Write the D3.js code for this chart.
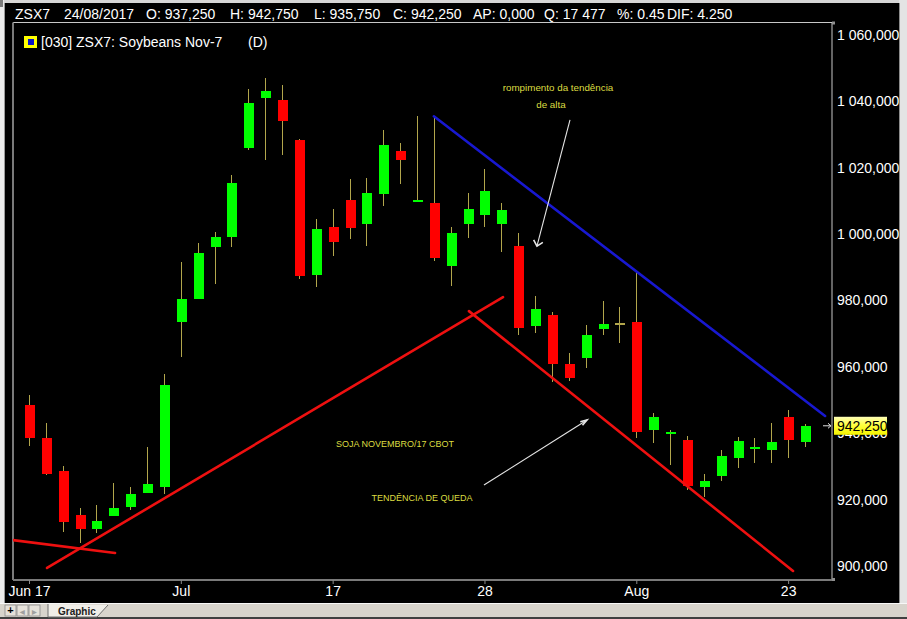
<!DOCTYPE html>
<html>
<head>
<meta charset="utf-8">
<script src="https://cdn.jsdelivr.net/npm/d3@7/dist/d3.min.js"></script>
<style>
  html, body { margin: 0; padding: 0; background: #000; overflow: hidden; }
  svg { display: block; }
  text { font-family: "Liberation Sans", Arial, sans-serif; }
</style>
</head>
<body>
<svg id="chart" width="907" height="619"></svg>
<script>
// ZSX7 (Soybeans Nov-17) daily candles, 20 Jun – 24 Aug 2017
const dates = [
  "2017-06-20","2017-06-21","2017-06-22","2017-06-23","2017-06-26","2017-06-27","2017-06-28","2017-06-29","2017-06-30",
  "2017-07-03","2017-07-05","2017-07-06","2017-07-07","2017-07-10","2017-07-11","2017-07-12","2017-07-13","2017-07-14",
  "2017-07-17","2017-07-18","2017-07-19","2017-07-20","2017-07-21","2017-07-24","2017-07-25","2017-07-26","2017-07-27",
  "2017-07-28","2017-07-31","2017-08-01","2017-08-02","2017-08-03","2017-08-04","2017-08-07","2017-08-08","2017-08-09",
  "2017-08-10","2017-08-11","2017-08-14","2017-08-15","2017-08-16","2017-08-17","2017-08-18","2017-08-21","2017-08-22",
  "2017-08-23","2017-08-24"
];
const open = [
  948.50, 938.50, 928.50, 915.50, 911.25, 915.00, 917.75, 922.00, 923.75,
  973.50, 980.50, 996.00, 999.00, 1026.00, 1041.00, 1040.50, 1028.25, 987.75,
  1002.00, 1010.25, 1003.00, 1012.00, 1025.00, 1009.75, 1009.50, 990.50, 1003.00,
  1005.75, 1003.00, 996.50, 972.25, 975.75, 960.75, 962.75, 971.50, 973.00,
  973.50, 941.00, 940.00, 938.00, 923.75, 927.25, 932.50, 935.25, 935.00,
  945.00, 937.25
];
const high = [
  951.50, 943.00, 930.25, 917.50, 918.50, 925.00, 923.75, 936.00, 958.00,
  991.50, 997.25, 1000.50, 1017.75, 1043.75, 1047.00, 1045.00, 1028.75, 1004.50,
  1007.50, 1016.75, 1017.00, 1031.25, 1027.50, 1035.50, 1035.50, 1002.25, 1012.50,
  1019.75, 1009.50, 1000.25, 981.25, 976.50, 964.25, 972.75, 979.75, 978.00,
  988.50, 946.25, 941.00, 939.25, 927.75, 935.00, 938.75, 938.50, 943.00,
  947.00, 942.75
];
const low = [
  936.25, 927.50, 910.25, 907.00, 910.00, 915.00, 917.00, 922.00, 921.75,
  963.00, 980.50, 985.00, 996.00, 1025.25, 1022.25, 1023.75, 986.50, 984.00,
  993.50, 998.50, 996.50, 1008.50, 1015.25, 1009.75, 992.00, 984.50, 998.75,
  1002.25, 994.50, 969.75, 970.25, 955.50, 955.75, 959.75, 969.50, 967.25,
  938.50, 937.00, 930.50, 923.00, 920.75, 925.75, 929.50, 931.00, 931.00,
  932.50, 935.75
];
const close = [
  938.50, 927.75, 913.25, 911.25, 913.50, 917.50, 921.75, 924.75, 954.50,
  980.50, 994.25, 999.00, 1015.50, 1039.50, 1043.00, 1034.00, 987.50, 1001.50,
  997.50, 1001.75, 1012.25, 1027.00, 1022.25, 1010.00, 992.75, 1000.25, 1007.50,
  1013.00, 1007.25, 971.75, 977.50, 960.75, 956.75, 969.75, 973.00, 973.00,
  940.50, 945.00, 940.25, 924.25, 925.50, 933.00, 937.75, 935.75, 937.50,
  938.00, 942.25
];

// Time axis labels (bar index -> label)
const timeTickIndex = [0, 9, 18, 27, 36, 45];
const timeTickLabels = ["Jun 17", "Jul", "17", "28", "Aug", "23"];
// Price axis
const priceTicks = [900, 920, 940, 960, 980, 1000, 1020, 1040, 1060];
const lastPrice = 942.25;

// Header quote line
const headerParts = ["ZSX7", "24/08/2017", "O: 937,250", "H: 942,750", "L: 935,750", "C: 942,250",
                     "AP: 0,000", "Q: 17 477", "%: 0.45", "DIF: 4.250"];
const legendTitle = "[030] ZSX7: Soybeans Nov-7";
const legendPeriod = "(D)";

// Hand-drawn studies, in (bar index, price) coordinates
const supportShort = [[-0.95, 907.8], [5.10, 903.9]];
const uptrend      = [[1.07, 899.4], [28.10, 981.0]];
const downChannel  = [[26.08, 976.8], [45.29, 898.5]];
const downTrend    = [[24.0, 1035.5], [47.19, 945.2]];
const arrowBreak   = [[32.07, 1034.4], [30.11, 996.4]];
const arrowFall    = [[26.97, 924.4], [33.08, 944.0]];
const notes = [
  { i: 31.36, v: 1044.3, text: "rompimento da tendência", size: 9.8 },
  { i: 30.94, v: 1038.9, text: "de alta", size: 9.8 },
  { i: 21.70, v: 936.8,  text: "SOJA NOVEMBRO/17 CBOT", size: 9 },
  { i: 23.30, v: 920.5,  text: "TENDÊNCIA DE QUEDA", size: 9 }
];

const W = 907, H = 619;
const plot = { left: 13, right: 832, top: 22.5, bottom: 580 };

const svg = d3.select("#chart");

const x = d3.scaleLinear().domain([0, dates.length - 1]).range([29, 805]);
const y = d3.scaleLinear().domain([900, 1060]).range([566, 35]);

const bars = dates.map((d, i) => ({ i, date: d, o: open[i], h: high[i], l: low[i], c: close[i] }));

// background
svg.append("rect").attr("width", W).attr("height", H).attr("fill", "#000");

// clip for plot content
svg.append("defs").append("clipPath").attr("id", "plotClip")
  .append("rect").attr("x", plot.left).attr("y", plot.top)
  .attr("width", plot.right - plot.left).attr("height", plot.bottom - plot.top);

const grad = svg.select("defs").append("linearGradient").attr("id", "lastGrad")
  .attr("x1", 0).attr("y1", 0).attr("x2", 0).attr("y2", 1);
grad.append("stop").attr("offset", "0%").attr("stop-color", "#ffffb8");
grad.append("stop").attr("offset", "45%").attr("stop-color", "#ffff40");
grad.append("stop").attr("offset", "100%").attr("stop-color", "#f4f400");

// header quote line
const headerX = [15, 64, 146, 230, 314, 393, 473, 544, 617, 667];
svg.append("g").selectAll("text").data(headerParts).join("text")
  .attr("x", (d, k) => headerX[k]).attr("y", 19)
  .attr("fill", "#fff").attr("font-size", 14).text(d => d);

// plot frame
const frame = svg.append("g");
frame.append("line").attr("x1", plot.left).attr("x2", plot.right).attr("y1", plot.top).attr("y2", plot.top)
  .attr("stroke", "#c8c8c8").attr("stroke-width", 1);
frame.append("line").attr("x1", plot.right).attr("x2", plot.right).attr("y1", plot.top).attr("y2", plot.bottom)
  .attr("stroke", "#c8c8c8").attr("stroke-width", 1);
frame.append("line").attr("x1", plot.left).attr("x2", plot.left).attr("y1", plot.top).attr("y2", plot.bottom)
  .attr("stroke", "#7a7a7a").attr("stroke-width", 2);
frame.append("line").attr("x1", plot.left).attr("x2", plot.right).attr("y1", plot.bottom).attr("y2", plot.bottom)
  .attr("stroke", "#7a7a7a").attr("stroke-width", 2);
frame.append("rect").attr("x", plot.right).attr("y", plot.top - 1).attr("width", 3).attr("height", 3).attr("fill", "#909090");
frame.append("rect").attr("x", plot.right).attr("y", plot.bottom - 2).attr("width", 3).attr("height", 3).attr("fill", "#909090");

// legend
const lg = svg.append("g");
lg.append("rect").attr("x", 24).attr("y", 36).attr("width", 13).attr("height", 12).attr("fill", "#ffff00");
lg.append("rect").attr("x", 28).attr("y", 39).attr("width", 6).attr("height", 6).attr("fill", "#0a14c8");
lg.append("text").attr("x", 41).attr("y", 47).attr("fill", "#fff").attr("font-size", 14).text(legendTitle);
lg.append("text").attr("x", 248).attr("y", 47).attr("fill", "#fff").attr("font-size", 14).text(legendPeriod);

// price axis (right)
const fmtPrice = v => {
  const s = d3.format(",.3f")(v);
  return s.replace(/,/g, " ").replace(".", ",");
};
const yAxis = svg.append("g").attr("transform", `translate(${plot.right},0)`)
  .call(d3.axisRight(y).tickValues(priceTicks).tickFormat(fmtPrice).tickSize(0).tickPadding(5));
yAxis.select(".domain").remove();
yAxis.selectAll("text").attr("fill", "#fff").attr("font-size", 14)
  .attr("font-family", "'Liberation Sans', Arial, sans-serif");

// time axis (bottom)
const xAxis = svg.append("g").attr("transform", `translate(0,${plot.bottom})`)
  .call(d3.axisBottom(x).tickValues(timeTickIndex)
    .tickFormat((d, k) => timeTickLabels[k]).tickSize(4).tickPadding(2));
xAxis.select(".domain").remove();
xAxis.selectAll("line").attr("stroke", "#8a8a8a");
xAxis.selectAll("text").attr("fill", "#fff").attr("font-size", 14)
  .attr("font-family", "'Liberation Sans', Arial, sans-serif");

// candles
const content = svg.append("g").attr("clip-path", "url(#plotClip)");
const wickColor = "#b2a64c";
const bodyW = 10;
const candles = content.append("g").attr("shape-rendering", "crispEdges")
  .selectAll("g").data(bars).join("g");
candles.append("line")
  .attr("x1", d => Math.round(x(d.i)) + 0.5).attr("x2", d => Math.round(x(d.i)) + 0.5)
  .attr("y1", d => y(d.h)).attr("y2", d => y(d.l))
  .attr("stroke", wickColor).attr("stroke-width", 1);
candles.append("rect")
  .attr("x", d => Math.round(x(d.i)) - bodyW / 2 + 1)
  .attr("width", bodyW)
  .attr("y", d => {
    const top = y(Math.max(d.o, d.c)), bot = y(Math.min(d.o, d.c));
    return bot - top < 2 ? (top + bot) / 2 - 1 : top;
  })
  .attr("height", d => Math.max(2, y(Math.min(d.o, d.c)) - y(Math.max(d.o, d.c))))
  .attr("fill", d => d.c > d.o ? "#00ff00" : d.c < d.o ? "#ff0000" : wickColor);

// trend lines
const lineGen = d3.line().x(p => x(p[0])).y(p => y(p[1]));
const studies = content.append("g").attr("fill", "none").attr("stroke-linecap", "round");
[supportShort, uptrend, downChannel].forEach(seg =>
  studies.append("path").attr("d", lineGen(seg)).attr("stroke", "#ee1010").attr("stroke-width", 2.6));
studies.append("path").attr("d", lineGen(downTrend)).attr("stroke", "#1818d0").attr("stroke-width", 2.6);

// annotation arrows
function drawArrow(seg, headLen, spread) {
  const x1 = x(seg[0][0]), y1 = y(seg[0][1]), x2 = x(seg[1][0]), y2 = y(seg[1][1]);
  const a = Math.atan2(y2 - y1, x2 - x1);
  const g = content.append("g").attr("stroke", "#e6e6e6").attr("stroke-width", 1.1).attr("fill", "none");
  g.append("line").attr("x1", x1).attr("y1", y1).attr("x2", x2).attr("y2", y2);
  const wing = s => [x2 - headLen * Math.cos(a + s), y2 - headLen * Math.sin(a + s)];
  const w1 = wing(spread), w2 = wing(-spread);
  g.append("path").attr("d", `M${w1[0]},${w1[1]}L${x2},${y2}L${w2[0]},${w2[1]}`).attr("stroke-width", 1.6);
}
drawArrow(arrowBreak, 7, 0.75);
drawArrow(arrowFall, 7, 0.3);

// annotation text
content.append("g").selectAll("text").data(notes).join("text")
  .attr("x", d => x(d.i)).attr("y", d => y(d.v)).attr("dy", "0.35em")
  .attr("text-anchor", "middle").attr("fill", "#dcdc40")
  .attr("font-size", d => d.size).text(d => d.text);

// last price marker and box
const yl = y(lastPrice);
svg.append("path").attr("d", `M${plot.right - 9},${yl}L${plot.right - 1},${yl}M${plot.right - 4},${yl - 2.5}L${plot.right - 1},${yl}L${plot.right - 4},${yl + 2.5}`)
  .attr("stroke", "#dddddd").attr("stroke-width", 1).attr("fill", "none");
svg.append("rect").attr("x", 834).attr("y", yl - 9).attr("width", 53).attr("height", 18).attr("fill", "url(#lastGrad)");
svg.append("text").attr("x", 837).attr("y", yl).attr("dy", "0.36em").attr("fill", "#000")
  .attr("font-size", 14).text(fmtPrice(lastPrice));

// window chrome
const chrome = svg.append("g").attr("shape-rendering", "crispEdges");
chrome.append("rect").attr("x", 0).attr("y", 0).attr("width", W).attr("height", 3).attr("fill", "#d6d6d6");
chrome.append("rect").attr("x", 0).attr("y", 0).attr("width", 4).attr("height", 603).attr("fill", "#ececec");
chrome.append("rect").attr("x", 4).attr("y", 3).attr("width", 1).attr("height", 600).attr("fill", "#9a9a9a");
chrome.append("rect").attr("x", 0).attr("y", 0).attr("width", 3).attr("height", 7).attr("fill", "#7c7c7c");
chrome.append("rect").attr("x", 899).attr("y", 0).attr("width", 8).attr("height", 603).attr("fill", "#e4e4e4");
chrome.append("rect").attr("x", 899).attr("y", 3).attr("width", 1).attr("height", 600).attr("fill", "#8c8c8c");

// sheet tab bar
const tabBar = svg.append("g");
tabBar.append("rect").attr("x", 0).attr("y", 603).attr("width", W).attr("height", 16).attr("fill", "#d8d4cc");
tabBar.append("rect").attr("x", 0).attr("y", 603).attr("width", W).attr("height", 1).attr("fill", "#f8f8f8");
tabBar.append("rect").attr("x", 0).attr("y", 617).attr("width", W).attr("height", 2).attr("fill", "#404040");
const btns = [[5, "+"], [17, "◀"], [29, "▶"]];
btns.forEach(([bx, s], k) => {
  tabBar.append("rect").attr("x", bx).attr("y", 605).attr("width", 11).attr("height", 11)
    .attr("fill", "#e6e2da").attr("stroke", "#8a8a8a").attr("stroke-width", 0.8);
  tabBar.append("text").attr("x", bx + 5.5).attr("y", 614).attr("text-anchor", "middle")
    .attr("font-size", k === 0 ? 11 : 6).attr("font-weight", "bold")
    .attr("fill", k === 0 ? "#000" : "#a0a0a0").text(s);
});
tabBar.append("path").attr("d", "M48,604 L48,617 L97,617 L108,605")
  .attr("fill", "#f0eee8").attr("stroke", "#707070").attr("stroke-width", 1);
tabBar.append("text").attr("x", 58).attr("y", 615).attr("font-size", 10).attr("font-weight", "bold")
  .attr("fill", "#202020").text("Graphic");
</script>
</body>
</html>
